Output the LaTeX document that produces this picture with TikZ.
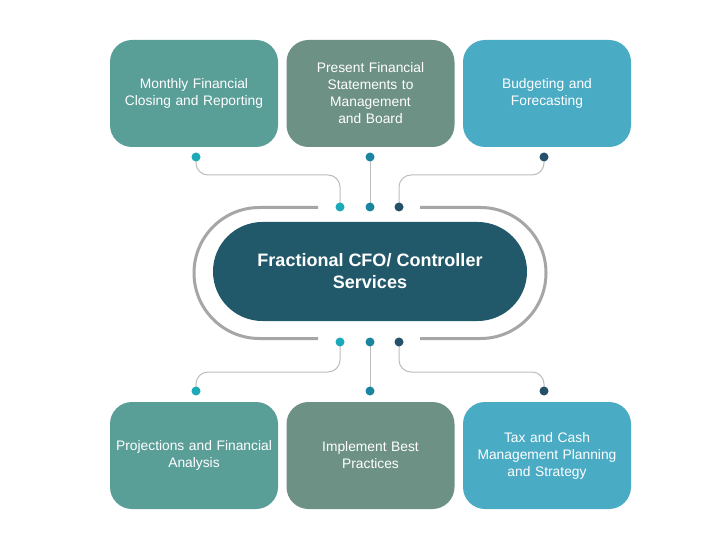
\documentclass[tikz,border=0pt]{standalone}
\usepackage{fontspec}
\setmainfont{Liberation Sans}
\definecolor{cA}{HTML}{5A9E98}
\definecolor{cB}{HTML}{6E9186}
\definecolor{cC}{HTML}{4AABC5}
\definecolor{cMid}{HTML}{22596A}
\definecolor{dA}{HTML}{1AAAB8}
\definecolor{dB}{HTML}{1B84A0}
\definecolor{dC}{HTML}{25506A}
\definecolor{ringc}{HTML}{A6A6A6}
\definecolor{connc}{HTML}{BDBDBD}
\begin{document}
\begin{tikzpicture}[x=1pt,y=-1pt,
  box/.style={minimum width=168pt,minimum height=107pt,rounded corners=22pt,text=white,align=center,font=\fontsize{13.8}{17}\selectfont,text width=166pt,inner sep=0pt},
  hub/.style={fill=cMid,minimum width=314pt,minimum height=99pt,rounded corners=49.4pt,text=white,align=center,font=\bfseries\fontsize{18}{22}\selectfont,inner sep=0pt},
  dot/.style={circle,minimum size=9pt,inner sep=0pt},
  conn/.style={draw=connc,line width=1pt,rounded corners=12pt},
  ring/.style={draw=ringc,line width=3pt}]
\useasboundingbox (0,0) rectangle (720,540);
\fill[white] (0,0) rectangle (720,540);
% boxes
\node[box,fill=cA] (b1) at (194,93.5) {Monthly Financial\\Closing and Reporting};
\node[box,fill=cB] (b2) at (370.5,93.5) {Present Financial\\Statements to\\Management\\and Board};
\node[box,fill=cC] (b3) at (547,93.5) {Budgeting and\\Forecasting};
\node[box,fill=cA] (b4) at (194,455.5) {Projections and Financial\\Analysis};
\node[box,fill=cB] (b5) at (370.5,455.5) {Implement Best\\Practices};
\node[box,fill=cC] (b6) at (547,455.5) {Tax and Cash\\Management Planning\\and Strategy};
% ring
\draw[ring] (318,207.5) -- (259.5,207.5) arc[start angle=-90,end angle=-270,radius=65.5] -- (318,338.5);
\draw[ring] (420,207.5) -- (480.5,207.5) arc[start angle=-90,end angle=90,radius=65.5] -- (420,338.5);
% hub
\node[hub] (hub) at (370,271.5) {Fractional CFO/ Controller\\Services};
% coordinates
\coordinate (t1) at (196,157);
\coordinate (t2) at (370,157);
\coordinate (t3) at (544,157);
\coordinate (u1) at (340,207);
\coordinate (u2) at (370,207);
\coordinate (u3) at (399,207);
\coordinate (l1) at (340,342);
\coordinate (l2) at (370,342);
\coordinate (l3) at (399,342);
\coordinate (s1) at (196,391);
\coordinate (s2) at (370,391);
\coordinate (s3) at (544,391);
\coordinate (h1) at (270,175);
\coordinate (h3) at (470,175);
\coordinate (k1) at (270,372);
\coordinate (k3) at (470,372);
% connectors
\draw[conn] (t1) |- (h1) -| (u1);
\draw[conn] (t2) -- (u2);
\draw[conn] (t3) |- (h3) -| (u3);
\draw[conn] (l1) |- (k1) -| (s1);
\draw[conn] (l2) -- (s2);
\draw[conn] (l3) |- (k3) -| (s3);
% dots
\node[dot,fill=dA] (dt1) at (t1) {};
\node[dot,fill=dB] (dt2) at (t2) {};
\node[dot,fill=dC] (dt3) at (t3) {};
\node[dot,fill=dA] (du1) at (u1) {};
\node[dot,fill=dB] (du2) at (u2) {};
\node[dot,fill=dC] (du3) at (u3) {};
\node[dot,fill=dA] (dl1) at (l1) {};
\node[dot,fill=dB] (dl2) at (l2) {};
\node[dot,fill=dC] (dl3) at (l3) {};
\node[dot,fill=dA] (ds1) at (s1) {};
\node[dot,fill=dB] (ds2) at (s2) {};
\node[dot,fill=dC] (ds3) at (s3) {};
\end{tikzpicture}
\end{document}
